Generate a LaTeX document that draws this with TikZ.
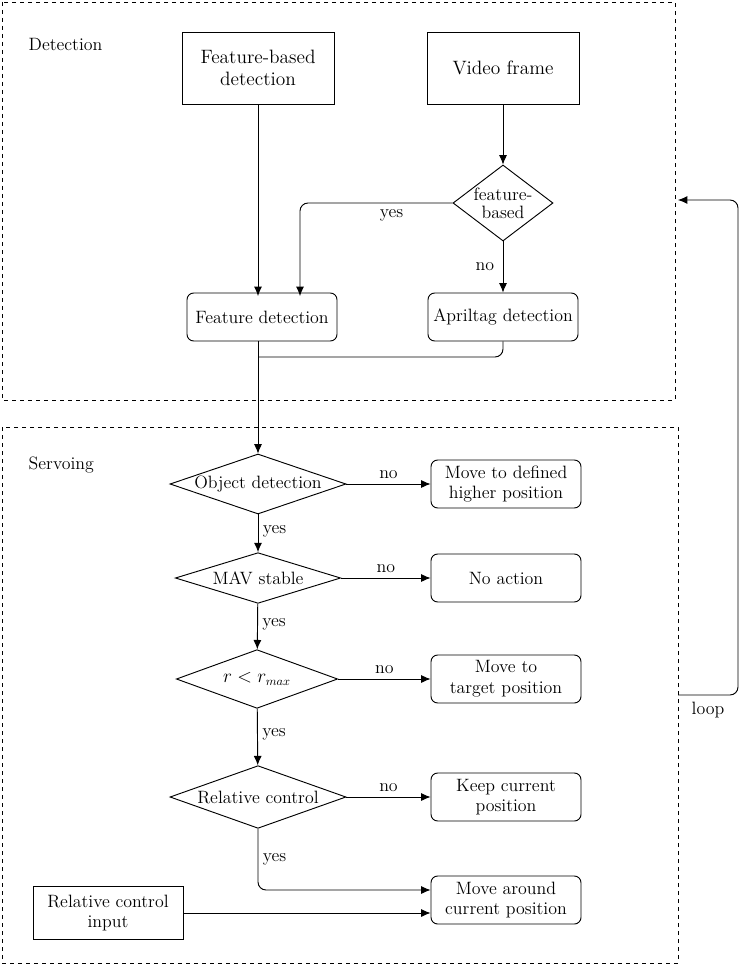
\documentclass[tikz,border=0pt]{standalone}
\usepackage{tikz}
\usetikzlibrary{arrows.meta}
\usetikzlibrary{shapes.geometric}

\tikzset{
  blk/.style={draw, line width=0.7pt, minimum width=114pt, minimum height=54pt, align=center, font=\fontsize{14.5}{17}\selectfont},
  rblk/.style={draw, line width=0.7pt, rounded corners=5pt, minimum width=112.5pt, minimum height=36pt, align=center},
  dia/.style={draw, line width=0.7pt, diamond, inner sep=0pt},
  lnk/.style={draw, line width=0.7pt, -{Latex[length=7pt,width=6pt]}, rounded corners=6pt},
  frm/.style={draw, line width=0.7pt, dashed}
}

\begin{document}
\begin{tikzpicture}[x=0.75pt, y=-0.75pt, font=\fontsize{13.4}{15.5}\selectfont]

  \useasboundingbox (0,0) rectangle (748,966);

  % frames
  \draw[frm] (2,2) rectangle (675,400);
  \draw[frm] (2,427) rectangle (678,963);
  \node[anchor=west] (tdet) at (24,44) {Detection};
  \node[anchor=west] (tserv) at (24,465) {Servoing};

  % detection part
  \node[blk] (fbd) at (258,68) {Feature-based\\detection};
  \node[blk] (vf) at (503,68) {Video frame};
  \node[dia, minimum width=75pt, minimum height=57pt, label=center:{\parbox{60pt}{\centering feature-\\[-2pt]based}}] (isfb) at (503,203) {};
  \node[rblk] (fd) at (262,317) {Feature detection};
  \node[rblk] (ad) at (503,317) {Apriltag detection};

  \coordinate (join) at (258,357);

  \draw[lnk] (fbd.south -| 258,0) -- (258,296);
  \draw[lnk] (vf) -- (isfb);
  \draw[lnk] (isfb.west) -- (300,203) node[pos=0.4, below=1pt] {yes} -- (300,296);
  \draw[lnk] (isfb.south) -- node[pos=0.5, left=3pt] {no} (ad.north);

  % servoing part
  \node[dia, minimum width=132pt, minimum height=45pt, label=center:{Object detection}] (od) at (258,484) {};
  \node[dia, minimum width=124pt, minimum height=38pt, label=center:{MAV stable}] (ms) at (258,578) {};
  \node[dia, minimum width=121pt, minimum height=44pt, label=center:{$r<r_{max}$}] (rr) at (257,679) {};
  \node[dia, minimum width=132pt, minimum height=47pt, label=center:{Relative control}] (rc) at (258,797) {};

  \node[rblk] (mh) at (506,484) {Move to defined\\higher position};
  \node[rblk] (na) at (506,578) {No action};
  \node[rblk] (mt) at (506,679) {Move to\\target position};
  \node[rblk] (kc) at (506,797) {Keep current\\position};
  \node[rblk] (ma) at (506,900) {Move around\\current position};
  \node[draw, line width=0.7pt, minimum width=112.5pt, minimum height=40pt, align=center] (rci) at (108,913) {Relative control\\input};

  \draw[line width=0.7pt, rounded corners=6pt] (ad.south) |- (join);
  \draw[lnk] (fd.south -| 258,0) -- (od.north);

  \draw[lnk] (od) -- node[above] {no} (mh);
  \draw[lnk] (ms) -- node[above] {no} (na);
  \draw[lnk] (rr) -- node[above] {no} (mt);
  \draw[lnk] (rc) -- node[above] {no} (kc);

  \draw[lnk] (od) -- node[right, pos=0.45] {yes} (ms);
  \draw[lnk] (ms) -- node[right, pos=0.45] {yes} (rr);
  \draw[lnk] (rr) -- node[right, pos=0.45] {yes} (rc);
  \draw[lnk] (rc.south) -- node[right, pos=0.5] {yes} (258,890) -- (ma.west |- 0,890);
  \draw[lnk] (rci.east) -- (ma.west |- rci.east);

  % loop back
  \coordinate (lstart) at (678,695);
  \coordinate (lend) at (678,200);
  \draw[lnk] (lstart) -- (738,695) node[pos=0.5, below=2pt] {loop} -- (738,200) -- (lend);

\end{tikzpicture}
\end{document}
